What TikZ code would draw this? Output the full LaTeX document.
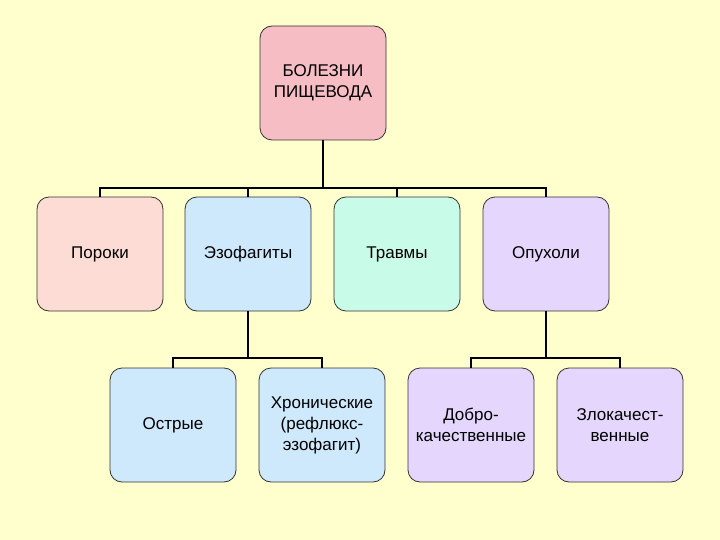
\documentclass[tikz,border=0pt]{standalone}
\usepackage{fontspec}
\setmainfont{Liberation Sans}
\begin{document}
\begin{tikzpicture}[x=1pt,y=-1pt,
  box/.style={draw=black!80,line width=0.8pt,rounded corners=12pt,minimum width=126pt,minimum height=114pt,align=center,font=\fontsize{17}{21}\selectfont,inner sep=2pt},
  conn/.style={line width=2pt,black}]
\fill[fill={rgb,255:red,255;green,255;blue,206}] (0,0) rectangle (720,540);
\useasboundingbox (0,0) rectangle (720,540);
\definecolor{cpink}{RGB}{246,190,196}
\definecolor{cpeach}{RGB}{252,220,212}
\definecolor{cblue}{RGB}{206,232,252}
\definecolor{cmint}{RGB}{200,252,232}
\definecolor{clil}{RGB}{228,214,252}
\node[box,fill=cpink] (root) at (323,83) {БОЛЕЗНИ\\ПИЩЕВОДА};
\node[box,fill=cpeach] (a) at (100,254) {Пороки};
\node[box,fill=cblue] (b) at (248,254) {Эзофагиты};
\node[box,fill=cmint] (c) at (397,254) {Травмы};
\node[box,fill=clil] (d) at (546,254) {Опухоли};
\node[box,fill=cblue] (e) at (173,425) {Острые};
\node[box,fill=cblue] (f) at (322,425) {Хронические\\(рефлюкс-\\эзофагит)};
\node[box,fill=clil] (g) at (471,425) {Добро-\\качественные};
\node[box,fill=clil] (h) at (620,425) {Злокачест-\\венные};
\coordinate (j1) at (323,188);
\draw[conn] (root.south) -- (j1);
\draw[conn] (a.north) -- ++(0,-9) -| (d.north);
\draw[conn] (b.north) -- ++(0,-9);
\draw[conn] (c.north) -- ++(0,-9);
\draw[conn] (b.south) -- ++(0,47) coordinate (j2);
\draw[conn] (e.north) -- ++(0,-10) -| (f.north);
\draw[conn] (d.south) -- ++(0,47) coordinate (j3);
\draw[conn] (g.north) -- ++(0,-10) -| (h.north);
\end{tikzpicture}
\end{document}
